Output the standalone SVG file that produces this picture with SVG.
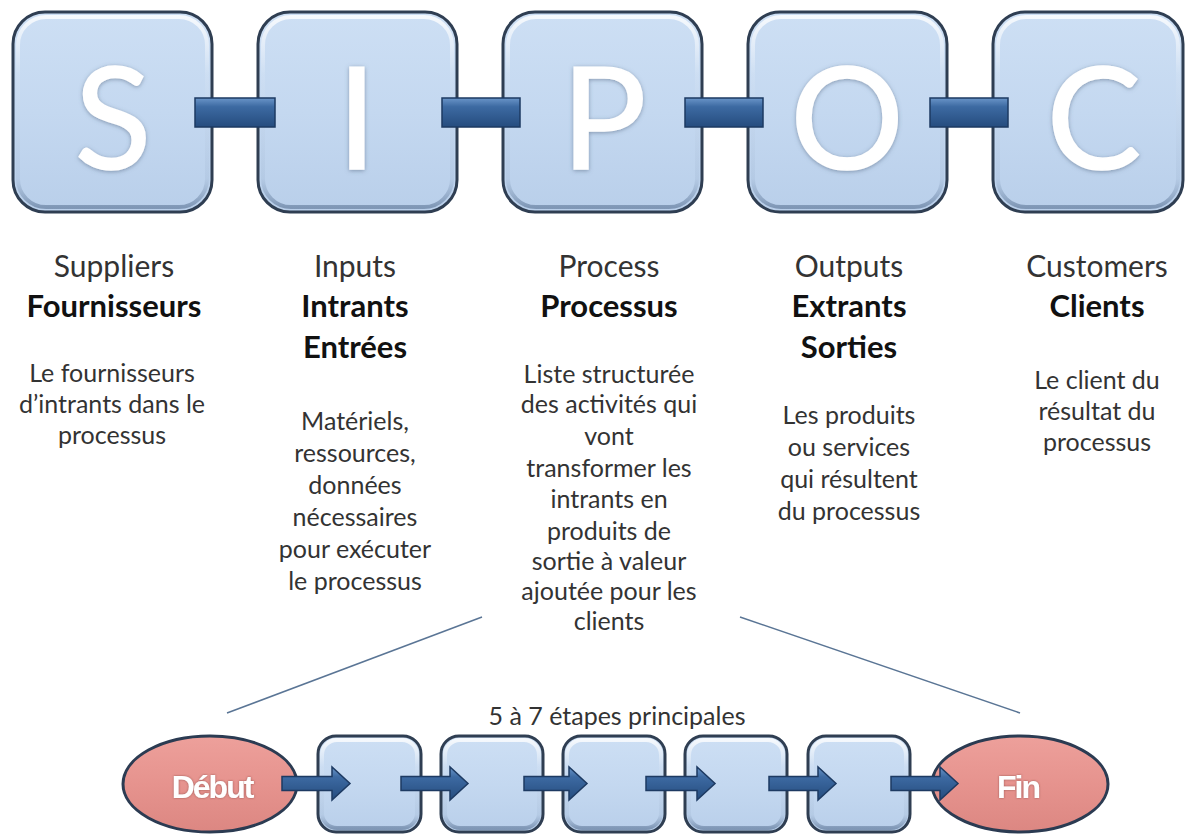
<svg xmlns="http://www.w3.org/2000/svg" width="1187" height="835" viewBox="0 0 1187 835">
<defs>
  <linearGradient id="boxFill" x1="0" y1="0" x2="0" y2="1">
    <stop offset="0" stop-color="#cddff4"/>
    <stop offset="0.5" stop-color="#c4d8f0"/>
    <stop offset="1" stop-color="#b9cfea"/>
  </linearGradient>
  <linearGradient id="rimGrad" x1="0" y1="0" x2="0" y2="1">
    <stop offset="0" stop-color="#ffffff" stop-opacity="0.8"/>
    <stop offset="0.3" stop-color="#ffffff" stop-opacity="0.1"/>
    <stop offset="0.85" stop-color="#6d86a6" stop-opacity="0.1"/>
    <stop offset="1" stop-color="#50698b" stop-opacity="0.55"/>
  </linearGradient>
  <linearGradient id="barFill" x1="0" y1="0" x2="0" y2="1">
    <stop offset="0" stop-color="#6a95c8"/>
    <stop offset="0.3" stop-color="#3d6aa2"/>
    <stop offset="1" stop-color="#254c7e"/>
  </linearGradient>
  <linearGradient id="ellFill" x1="0" y1="0" x2="0" y2="1">
    <stop offset="0" stop-color="#eda09b"/>
    <stop offset="0.5" stop-color="#e6938e"/>
    <stop offset="1" stop-color="#dc8782"/>
  </linearGradient>
  <filter id="glow" x="-20%" y="-20%" width="140%" height="140%">
    <feGaussianBlur in="SourceAlpha" stdDeviation="2"/>
    <feOffset dx="0" dy="1" result="b"/>
    <feFlood flood-color="#4c5f78" flood-opacity="0.55"/>
    <feComposite in2="b" operator="in" result="s"/>
    <feMerge><feMergeNode in="s"/><feMergeNode in="SourceGraphic"/></feMerge>
  </filter>
  <filter id="tshadow" x="-20%" y="-30%" width="140%" height="160%">
    <feGaussianBlur in="SourceAlpha" stdDeviation="1.2"/>
    <feOffset dx="0" dy="0" result="b"/>
    <feFlood flood-color="#7a3b38" flood-opacity="0.7"/>
    <feComposite in2="b" operator="in" result="s"/>
    <feMerge><feMergeNode in="s"/><feMergeNode in="SourceGraphic"/></feMerge>
  </filter>
</defs>
<style>
  .box { fill: url(#boxFill); stroke: #2f3e52; stroke-width: 3; }
  .rim { fill: none; stroke: url(#rimGrad); stroke-width: 4; }
  .letter { font-family: Lato, "Liberation Sans", sans-serif; font-size: 142px; fill: #ffffff; stroke: #ffffff; stroke-width: 1.5; text-anchor: middle; }
  .bar { fill: url(#barFill); stroke: #1d3a62; stroke-width: 1.5; }
  .ell { fill: url(#ellFill); stroke: #2b3b52; stroke-width: 3; }
  .t { font-family: Lato, "Liberation Sans", sans-serif; text-anchor: middle; }
  .title { font-size: 30px; fill: #333333; }
  .bold { font-size: 31px; font-weight: bold; fill: #111111; }
  .body { font-size: 25px; fill: #333333; }
  .se { font-family: "Liberation Sans", Arial, sans-serif; font-weight: bold; font-size: 32px; fill: #ffffff; text-anchor: middle; letter-spacing: -2px; }
  .ln { stroke: #5a7595; stroke-width: 1.5; fill: none; }
</style>
<rect width="1187" height="835" fill="#ffffff"/>

<!-- Top SIPOC boxes -->
<g id="node-S">
  <rect class="box" x="13" y="12" width="199" height="200" rx="32"/>
  <rect class="rim" x="18" y="17" width="189" height="190" rx="28"/>
  <text class="letter" x="113" y="169" filter="url(#glow)">S</text>
</g>
<g id="node-I">
  <rect class="box" x="258" y="12" width="199" height="200" rx="32"/>
  <rect class="rim" x="263" y="17" width="189" height="190" rx="28"/>
  <text class="letter" x="357" y="169" filter="url(#glow)">I</text>
</g>
<g id="node-P">
  <rect class="box" x="503" y="12" width="199" height="200" rx="32"/>
  <rect class="rim" x="508" y="17" width="189" height="190" rx="28"/>
  <text class="letter" x="604" y="169" filter="url(#glow)">P</text>
</g>
<g id="node-O">
  <rect class="box" x="748" y="12" width="199" height="200" rx="32"/>
  <rect class="rim" x="753" y="17" width="189" height="190" rx="28"/>
  <text class="letter" x="847" y="169" filter="url(#glow)">O</text>
</g>
<g id="node-C">
  <rect class="box" x="993" y="12" width="190" height="200" rx="32"/>
  <rect class="rim" x="998" y="17" width="180" height="190" rx="28"/>
  <text class="letter" x="1094" y="169" filter="url(#glow)">C</text>
</g>

<!-- Text columns -->
<g id="col-suppliers" class="t">
  <text class="title" x="114" y="277">Suppliers</text>
  <text class="bold" x="114" y="317">Fournisseurs</text>
  <text class="body" x="112" y="382">Le fournisseurs</text>
  <text class="body" x="112" y="413">d’intrants dans le</text>
  <text class="body" x="112" y="444">processus</text>
</g>
<g id="col-inputs" class="t">
  <text class="title" x="355" y="277">Inputs</text>
  <text class="bold" x="355" y="317">Intrants</text>
  <text class="bold" x="355" y="358">Entrées</text>
  <text class="body" x="355" y="430">Matériels,</text>
  <text class="body" x="355" y="462">ressources,</text>
  <text class="body" x="355" y="494">données</text>
  <text class="body" x="355" y="526">nécessaires</text>
  <text class="body" x="355" y="558">pour exécuter</text>
  <text class="body" x="355" y="590">le processus</text>
</g>
<g id="col-process" class="t">
  <text class="title" x="609" y="277">Process</text>
  <text class="bold" x="609" y="317">Processus</text>
  <text class="body" x="609" y="383">Liste structurée</text>
  <text class="body" x="609" y="413">des activités qui</text>
  <text class="body" x="609" y="445">vont</text>
  <text class="body" x="609" y="477">transformer les</text>
  <text class="body" x="609" y="508">intrants en</text>
  <text class="body" x="609" y="540">produits de</text>
  <text class="body" x="609" y="570">sortie à valeur</text>
  <text class="body" x="609" y="600">ajoutée pour les</text>
  <text class="body" x="609" y="630">clients</text>
</g>
<g id="col-outputs" class="t">
  <text class="title" x="849" y="277">Outputs</text>
  <text class="bold" x="849" y="317">Extrants</text>
  <text class="bold" x="849" y="358">Sorties</text>
  <text class="body" x="849" y="424">Les produits</text>
  <text class="body" x="849" y="456">ou services</text>
  <text class="body" x="849" y="488">qui résultent</text>
  <text class="body" x="849" y="520">du processus</text>
</g>
<g id="col-customers" class="t">
  <text class="title" x="1097" y="277">Customers</text>
  <text class="bold" x="1097" y="317">Clients</text>
  <text class="body" x="1097" y="389">Le client du</text>
  <text class="body" x="1097" y="420">résultat du</text>
  <text class="body" x="1097" y="451">processus</text>
</g>

<g id="label-steps" class="t">
  <text class="body" x="617" y="725">5 à 7 étapes principales</text>
</g>

<!-- Bottom nodes -->
<g id="node-debut">
  <ellipse class="ell" cx="210" cy="784" rx="87" ry="48"/>
  <text class="se" x="212" y="798" filter="url(#tshadow)">Début</text>
</g>
<g id="step-1">
  <rect class="box" x="318" y="736" width="103" height="96" rx="18"/>
  <rect class="rim" x="322" y="740" width="95" height="88" rx="15"/>
</g>
<g id="step-2">
  <rect class="box" x="441" y="736" width="102" height="96" rx="18"/>
  <rect class="rim" x="445" y="740" width="94" height="88" rx="15"/>
</g>
<g id="step-3">
  <rect class="box" x="563" y="736" width="102" height="96" rx="18"/>
  <rect class="rim" x="567" y="740" width="94" height="88" rx="15"/>
</g>
<g id="step-4">
  <rect class="box" x="685" y="736" width="102" height="96" rx="18"/>
  <rect class="rim" x="689" y="740" width="94" height="88" rx="15"/>
</g>
<g id="step-5">
  <rect class="box" x="808" y="736" width="102" height="96" rx="18"/>
  <rect class="rim" x="812" y="740" width="94" height="88" rx="15"/>
</g>
<g id="node-fin">
  <ellipse class="ell" cx="1020" cy="784" rx="88" ry="48"/>
  <text class="se" x="1018" y="798" filter="url(#tshadow)">Fin</text>
</g>

<!-- Connectors -->
<g id="connectors">
  <rect class="bar" x="195" y="98" width="80" height="29"/>
  <rect class="bar" x="442" y="98" width="78" height="29"/>
  <rect class="bar" x="685" y="98" width="78" height="29"/>
  <rect class="bar" x="930" y="98" width="78" height="29"/>
  <line class="ln" x1="482" y1="617" x2="227" y2="713"/>
  <line class="ln" x1="740" y1="617" x2="1020" y2="713"/>
  <path class="bar" d="M282,776.5 H332 V767 L350,783.5 L332,800 V790.5 H282 Z"/>
  <path class="bar" d="M401,776.5 H450 V767 L468,783.5 L450,800 V790.5 H401 Z"/>
  <path class="bar" d="M524,776.5 H569 V767 L587,783.5 L569,800 V790.5 H524 Z"/>
  <path class="bar" d="M646,776.5 H697 V767 L715,783.5 L697,800 V790.5 H646 Z"/>
  <path class="bar" d="M769,776.5 H818 V767 L836,783.5 L818,800 V790.5 H769 Z"/>
  <path class="bar" d="M891,776.5 H940 V767 L958,783.5 L940,800 V790.5 H891 Z"/>
</g>
</svg>
